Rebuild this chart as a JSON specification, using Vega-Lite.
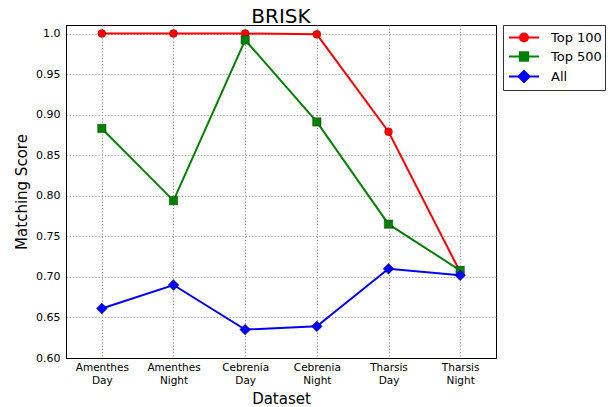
{
  "$schema": "https://vega.github.io/schema/vega-lite/v6.json",
  "width": 430,
  "height": 333,
  "autosize": {"type": "none"},
  "padding": {"left": 66, "top": 25, "right": 114, "bottom": 49},
  "background": "white",
  "title": {"text": "BRISK", "fontSize": 20, "font": "DejaVu Sans", "fontWeight": "normal", "offset": -2, "anchor": "middle", "color": "black"},
  "config": {
    "font": "DejaVu Sans",
    "view": {"stroke": "black", "strokeWidth": 1},
    "axis": {
      "domainColor": "black",
      "domainWidth": 1,
      "ticks": false,
      "labelColor": "black",
      "labelFont": "DejaVu Sans",
      "titleFont": "DejaVu Sans",
      "titleFontWeight": "normal",
      "titleColor": "black",
      "titleFontSize": 15,
      "gridColor": "#999999",
      "gridDash": [1.2, 2],
      "gridWidth": 1,
      "gridOpacity": 1
    }
  },
  "data": {
    "values": [
      {"dataset": "Amenthes Day", "series": "Top 100", "score": 1.0},
      {"dataset": "Amenthes Night", "series": "Top 100", "score": 1.0},
      {"dataset": "Cebrenia Day", "series": "Top 100", "score": 1.0},
      {"dataset": "Cebrenia Night", "series": "Top 100", "score": 0.999},
      {"dataset": "Tharsis Day", "series": "Top 100", "score": 0.879},
      {"dataset": "Tharsis Night", "series": "Top 100", "score": 0.706},
      {"dataset": "Amenthes Day", "series": "Top 500", "score": 0.883},
      {"dataset": "Amenthes Night", "series": "Top 500", "score": 0.794},
      {"dataset": "Cebrenia Day", "series": "Top 500", "score": 0.992},
      {"dataset": "Cebrenia Night", "series": "Top 500", "score": 0.891},
      {"dataset": "Tharsis Day", "series": "Top 500", "score": 0.765},
      {"dataset": "Tharsis Night", "series": "Top 500", "score": 0.708},
      {"dataset": "Amenthes Day", "series": "All", "score": 0.661},
      {"dataset": "Amenthes Night", "series": "All", "score": 0.690},
      {"dataset": "Cebrenia Day", "series": "All", "score": 0.635},
      {"dataset": "Cebrenia Night", "series": "All", "score": 0.639},
      {"dataset": "Tharsis Day", "series": "All", "score": 0.710},
      {"dataset": "Tharsis Night", "series": "All", "score": 0.702}
    ]
  },
  "encoding": {
    "x": {
      "field": "dataset",
      "type": "ordinal",
      "sort": null,
      "scale": {"type": "point", "padding": 0.5},
      "axis": {
        "title": "Dataset",
        "labelExpr": "split(datum.label, ' ')",
        "labelAngle": 0,
        "labelFontSize": 10.5,
        "labelLineHeight": 13,
        "labelPadding": 4,
        "titlePadding": 6,
        "grid": true
      }
    },
    "y": {
      "field": "score",
      "type": "quantitative",
      "scale": {"domain": [0.6, 1.0105], "nice": false, "zero": false},
      "axis": {
        "title": "Matching Score",
        "values": [0.6, 0.65, 0.7, 0.75, 0.8, 0.85, 0.9, 0.95, 1.0],
        "labelExpr": "datum.value == 1 ? '1.0' : format(datum.value, '.2f')",
        "labelFontSize": 11,
        "labelPadding": 6,
        "titlePadding": 6,
        "grid": true
      }
    },
    "color": {
      "field": "series",
      "type": "nominal",
      "sort": ["Top 100", "Top 500", "All"],
      "scale": {"domain": ["Top 100", "Top 500", "All"], "range": ["#ff0000", "#008000", "#0000ff"]},
      "legend": {
        "title": null,
        "orient": "none",
        "legendX": 437,
        "legendY": 0,
        "padding": 3,
        "rowPadding": 1,
        "strokeColor": "#333333",
        "fillColor": "white",
        "cornerRadius": 0,
        "labelFontSize": 13,
        "labelFont": "DejaVu Sans",
        "labelColor": "black",
        "symbolSize": 289,
        "symbolOffset": 8.5,
        "labelOffset": 17.5,
        "symbolStrokeWidth": 2,
        "encode": {
          "symbols": {
            "update": {
              "shape": {"signal": "datum.value === 'Top 100' ? 'M-1.765,0H1.765M-0.47,0A0.47,0.47 0 1 1 0.47,0A0.47,0.47 0 1 1 -0.47,0Z' : datum.value === 'Top 500' ? 'M-1.765,0H1.765M-0.49,-0.49H0.49V0.49H-0.49Z' : 'M-1.765,0H1.765M-0.65,0L0,-0.65L0.65,0L0,0.65Z'"},
              "fill": {"scale": "color", "field": "value"},
              "stroke": {"scale": "color", "field": "value"},
              "strokeWidth": {"value": 2},
              "opacity": {"value": 1}
            }
          }
        }
      }
    }
  },
  "layer": [
    {"mark": {"type": "line", "strokeWidth": 2}},
    {
      "transform": [{"filter": "datum.series === 'Top 100'"}],
      "mark": {"type": "point", "shape": "circle", "size": 64, "filled": true, "opacity": 1, "stroke": "#000000", "strokeWidth": 0.6, "strokeOpacity": 0.5}
    },
    {
      "transform": [{"filter": "datum.series === 'Top 500'"}],
      "mark": {"type": "point", "shape": "square", "size": 72, "filled": true, "opacity": 1, "stroke": "#000000", "strokeWidth": 0.6, "strokeOpacity": 0.5}
    },
    {
      "transform": [{"filter": "datum.series === 'All'"}],
      "mark": {"type": "point", "shape": "diamond", "size": 120, "filled": true, "opacity": 1, "stroke": "#000000", "strokeWidth": 0.6, "strokeOpacity": 0.5}
    }
  ]
}
